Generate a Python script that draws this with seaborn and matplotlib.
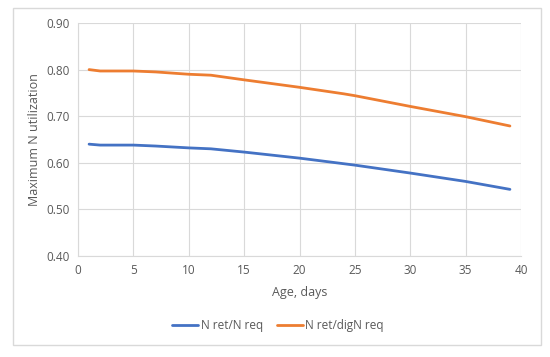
import matplotlib
matplotlib.use("Agg")
import matplotlib.pyplot as plt
import seaborn as sns
import pandas as pd
from matplotlib.patches import Rectangle

# values
age = [1, 2, 5, 7, 10, 12, 15, 20, 24, 25, 30, 35, 39]
n_ret_n_req = [0.640, 0.638, 0.638, 0.636, 0.632, 0.630, 0.623, 0.610, 0.598, 0.595, 0.578, 0.560, 0.543]
n_ret_dign_req = [0.800, 0.797, 0.797, 0.795, 0.790, 0.788, 0.778, 0.762, 0.748, 0.744, 0.721, 0.699, 0.679]

series_names = ["N ret/N req", "N ret/digN req"]
x_ticks = [0, 5, 10, 15, 20, 25, 30, 35, 40]
y_ticks = [0.40, 0.50, 0.60, 0.70, 0.80, 0.90]

df = pd.DataFrame({
    "Age": age * 2,
    "Value": n_ret_n_req + n_ret_dign_req,
    "Series": [series_names[0]] * len(age) + [series_names[1]] * len(age),
})

sns.set_style("white")
plt.rcParams["font.family"] = ["Open Sans", "DejaVu Sans"]

fig = plt.figure(figsize=(5.5, 3.57), dpi=100)
fig.patches.append(Rectangle((13 / 550, 1 - 345 / 357), 528 / 550, 337 / 357,
                             transform=fig.transFigure, fill=False,
                             edgecolor="#d9d9d9", linewidth=1.0))
ax = fig.add_axes([78 / 550, 1 - 256 / 357, 443 / 550, 233 / 357])

sns.lineplot(data=df, x="Age", y="Value", hue="Series",
             palette=["#4472C4", "#ED7D31"], linewidth=2.0, ax=ax)

ax.set_xlim(0, 40)
ax.set_ylim(0.40, 0.90)
ax.set_xticks(x_ticks)
ax.set_yticks(y_ticks)
ax.set_yticklabels([f"{v:.2f}" for v in y_ticks])
ax.grid(True, color="#d9d9d9", linewidth=0.8)
for side in ["top", "right"]:
    ax.spines[side].set_visible(False)
ax.spines["left"].set_color("#d9d9d9")
ax.spines["bottom"].set_color("#d9d9d9")
ax.tick_params(colors="#595959", labelsize=8.5, length=0, pad=6)
ax.set_xlabel("Age, days", color="#595959", fontsize=9, labelpad=6)
ax.set_ylabel("Maximum N utilization", color="#595959", fontsize=9, labelpad=4)

fig.legend(*ax.get_legend_handles_labels(), loc="center", bbox_to_anchor=(278 / 550, 1 - 326 / 357),
           ncol=2, frameon=False, fontsize=8.5, handlelength=2.2, handletextpad=0.2,
           columnspacing=1.2, labelcolor="#595959")
ax.get_legend().remove()

fig.savefig("out.png", dpi=100)
